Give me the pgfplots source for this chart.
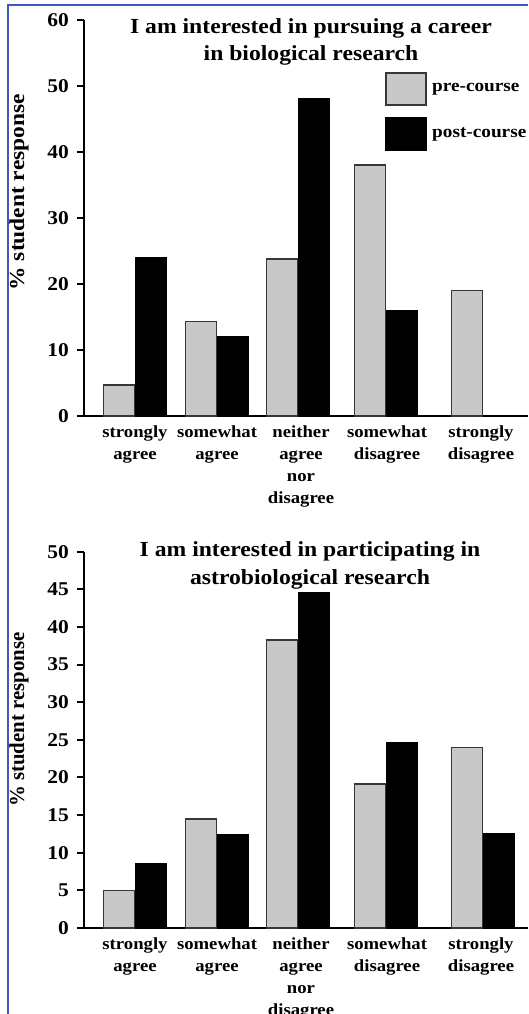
\documentclass[border=0pt]{standalone}
\usepackage{pgfplots}
\pgfplotsset{compat=1.18}
\usepackage{fontspec}
\setmainfont{Liberation Serif}[FakeStretch=1.1]
\definecolor{barpre}{RGB}{200,200,200}
\definecolor{edgepre}{RGB}{55,55,55}
\definecolor{frameblue}{RGB}{60,90,190}

\pgfplotsset{
  mybars/.style={
    scale only axis, width=444pt,
    xmin=84, xmax=528, ymin=0,
    axis x line=bottom, axis y line=left,
    axis line style={-, line width=2.8pt, black},
    xtick={135,217,301,387,481},
    xticklabels={{strongly\\agree},{somewhat\\agree},{neither\\agree\\nor\\disagree},{somewhat\\disagree},{strongly\\disagree}},
    x tick style={draw=none},
    y tick style={line width=2pt, black},
    tick align=outside, major tick length=7pt,
    yticklabel style={font=\fontsize{19.5}{21}\selectfont\bfseries, inner sep=0pt, xshift=-8pt},
    xticklabel style={font=\fontsize{17}{22}\selectfont\bfseries, align=center, anchor=north, inner sep=0pt, yshift=-3pt},
    /pgf/number format/assume math mode=true,
    clip=false,
  },
  prebar/.style={ybar, bar width=31, bar shift=0pt, fill=barpre, draw=edgepre, line width=1.6pt,
    legend image code/.code={\draw[fill=barpre, draw=edgepre, line width=2pt] (0pt,-17pt) rectangle (40pt,15pt);}},
  postbar/.style={ybar, bar width=31, bar shift=0pt, fill=black, draw=black, line width=1.6pt,
    legend image code/.code={\draw[fill=black, draw=black, line width=2pt] (0pt,-17pt) rectangle (40pt,15pt);}},
}

\begin{document}
\begin{tikzpicture}[x=1pt,y=1pt]
\useasboundingbox (0,0) rectangle (528,1014);
\draw[frameblue, line width=2pt] (8,0) -- (8,1009) -- (528,1009);

\begin{axis}[mybars, at={(84pt,598pt)}, anchor=south west, height=396pt,
  ymax=60, ytick={0,10,...,60},
  ylabel={\% student response},
  ylabel style={at={(axis cs:19,33.9)}, anchor=center, font=\fontsize{21.3}{23}\selectfont\bfseries},
  legend cell align=left,
  legend style={at={(axis cs:385,52.1)}, anchor=north west, draw=none, fill=none, inner sep=0pt,
    row sep=11pt, column sep=5pt, font=\fontsize{17.5}{19}\selectfont\bfseries, nodes={inner sep=0pt}},
]
\addplot[prebar] coordinates {(119,4.7) (201,14.3) (282,23.8) (370,38) (467,19)};
\addplot[postbar] coordinates {(151,24) (233,12) (314,48) (402,16) (499,0)};
\legend{pre-course, post-course}
\node[anchor=north, align=center, inner sep=0pt, font=\fontsize{21.5}{27}\selectfont\bfseries]
  at (axis cs:311,60.2) {I am interested in pursuing a career\\in biological research};
\end{axis}

\begin{axis}[mybars, at={(84pt,86pt)}, anchor=south west, height=376.3pt,
  ymax=50, ytick={0,5,...,50},
  ylabel={\scalebox{0.89}[1]{\% student response}},
  ylabel style={at={(axis cs:19,27.7)}, anchor=center, font=\fontsize{21.3}{23}\selectfont\bfseries},
]
\addplot[prebar] coordinates {(119,5) (201,14.5) (282,38.3) (370,19.1) (467,24)};
\addplot[postbar] coordinates {(151,8.5) (233,12.4) (314,44.5) (402,24.6) (499,12.5)};
\node[anchor=north, align=center, inner sep=0pt, font=\fontsize{21.5}{27.5}\selectfont\bfseries]
  at (axis cs:310,51.35) {I am interested in participating in\\astrobiological research};
\end{axis}
\end{tikzpicture}
\end{document}
